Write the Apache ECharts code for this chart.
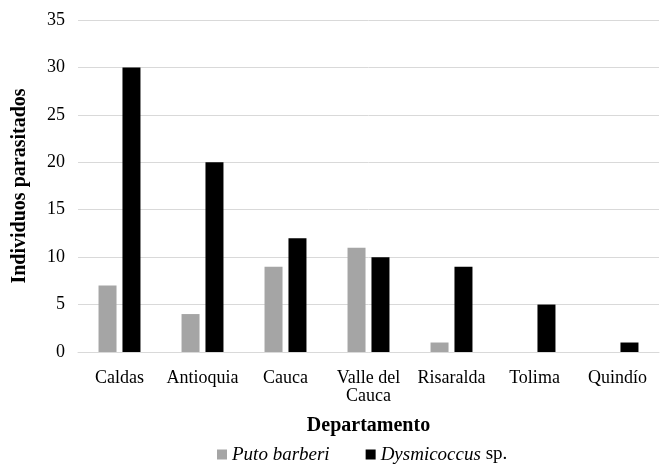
<!DOCTYPE html>
<html>
<head>
<meta charset="utf-8">
<script src="https://cdn.jsdelivr.net/npm/echarts@6/dist/echarts.min.js"></script>
<style>
  html, body { margin: 0; padding: 0; background: #fff; }
  #chart { width: 665px; height: 465px; }
</style>
</head>
<body>
<div id="chart"></div>
<script>
// datos
const departamentos = ['Caldas', 'Antioquia', 'Cauca', 'Valle del\nCauca', 'Risaralda', 'Tolima', 'Quindío']
const putoBarberi = [7, 4, 9, 11, 1, 0, 0]
const dysmicoccus = [30, 20, 12, 10, 9, 5, 1]

const chart = echarts.init(document.getElementById('chart'))
const font = "'Liberation Serif', serif"

const option = {
  textStyle: { fontFamily: font },
  grid: { left: 78, right: 6, top: 20, bottom: 113 },
  legend: {
    top: 445,
    left: 217,
    padding: 0,
    itemWidth: 10,
    itemHeight: 10,
    itemGap: 36,
    icon: 'rect',
    textStyle: {
      fontFamily: font,
      fontSize: 19,
      color: '#000',
      rich: {
        i: { fontFamily: font, fontSize: 19, fontStyle: 'italic', color: '#000' },
        n: { fontFamily: font, fontSize: 19, color: '#000' }
      }
    },
    formatter: function (name) {
      if (name === 'Dysmicoccus sp.') return '{i|Dysmicoccus} {n|sp.}'
      return '{i|' + name + '}'
    },
    data: ['Puto barberi', 'Dysmicoccus sp.']
  },
  xAxis: {
    type: 'category',
    data: departamentos,
    name: 'Departamento',
    nameLocation: 'middle',
    nameGap: 64,
    nameTextStyle: { fontFamily: font, fontSize: 20, fontWeight: 'bold', color: '#000' },
    axisLine: { show: true, lineStyle: { color: '#d9d9d9', width: 1 } },
    axisTick: { show: false },
    axisLabel: { fontFamily: font, fontSize: 18, color: '#000', margin: 17, interval: 0, lineHeight: 18 }
  },
  yAxis: {
    type: 'value',
    min: 0,
    max: 35,
    interval: 5,
    name: 'Individuos parasitados',
    nameLocation: 'middle',
    nameGap: 48,
    nameTextStyle: { fontFamily: font, fontSize: 20, fontWeight: 'bold', color: '#000' },
    axisLine: { show: false },
    axisTick: { show: false },
    axisLabel: { fontFamily: font, fontSize: 18, color: '#000', margin: 13 },
    splitLine: { lineStyle: { color: '#d9d9d9', width: 1 } }
  },
  series: [
    {
      name: 'Puto barberi',
      type: 'bar',
      data: putoBarberi,
      barWidth: 18,
      barGap: '33%',
      itemStyle: { color: '#a5a5a5' }
    },
    {
      name: 'Dysmicoccus sp.',
      type: 'bar',
      data: dysmicoccus,
      barWidth: 18,
      itemStyle: { color: '#000000' }
    }
  ]
}
chart.setOption(option)
</script>
</body>
</html>
